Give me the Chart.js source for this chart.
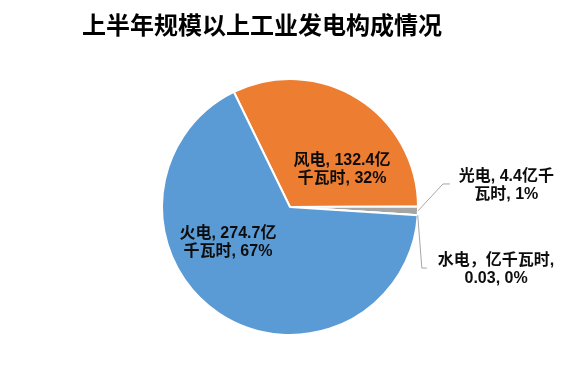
<!DOCTYPE html>
<html lang="zh">
<head>
  <meta charset="UTF-8">
  <title>上半年规模以上工业发电构成情况</title>
  <script src="https://cdn.jsdelivr.net/npm/chart.js"></script>
  <style>
    html, body { margin: 0; padding: 0; background: #fff; }
    #wrap { width: 582px; height: 370px; }
  </style>
</head>
<body>
  <div id="wrap"><canvas id="pie" width="582" height="370"></canvas></div>

  <script>
    const chartTitle = '上半年规模以上工业发电构成情况';
    const sources = ['风电', '光电', '水电', '火电'];
    const output = [132.4, 4.4, 0.03, 274.7];   // 亿千瓦时
    const colors = ['#ED7D31', '#A5A5A5', '#FFC000', '#5B9BD5'];

    const total = output.reduce((a, b) => a + b, 0);
    const pct = output.map(v => Math.round(v / total * 100) + '%');

    // label lines, same wording as the original
    const labelLines = [
      [sources[0] + ', ' + output[0] + '亿', '千瓦时, ' + pct[0]],
      [sources[1] + ', ' + output[1] + '亿千', '瓦时, ' + pct[1]],
      [sources[2] + '，亿千瓦时,', output[2] + ', ' + pct[2]],
      [sources[3] + ', ' + output[3] + '亿', '千瓦时, ' + pct[3]]
    ];
    // label centre relative to pie centre, in radii; leader elbow for outside ones
    const labelPos = [[0.406, -0.29], [1.69, -0.165], [1.61, 0.49], [-0.485, 0.275]];
    const leaders = [null, [1.195, -0.18, 7], [1.03, 0.477, 5], null];

    const labelPlugin = {
      id: 'sliceLabels',
      afterDraw(chart) {
        const ctx = chart.ctx;
        const arcs = chart.getDatasetMeta(0).data;
        ctx.save();
        // title
        ctx.fillStyle = '#000';
        ctx.font = 'bold 24px "Noto Sans CJK SC", sans-serif';
        ctx.textAlign = 'center';
        ctx.textBaseline = 'middle';
        ctx.fillText(chartTitle, 262, 25);

        arcs.forEach((arc, i) => {
          const r = arc.outerRadius;
          const cx = arc.x, cy = arc.y;
          const ld = leaders[i];
          if (ld) {
            const mid = (arc.startAngle + arc.endAngle) / 2;
            const ex = cx + ld[0] * r, ey = cy + ld[1] * r;
            ctx.strokeStyle = '#A6A6A6';
            ctx.lineWidth = 1;
            ctx.beginPath();
            ctx.moveTo(cx + Math.cos(mid) * r, cy + Math.sin(mid) * r);
            ctx.lineTo(ex, ey);
            ctx.lineTo(ex + ld[2], ey);
            ctx.stroke();
          }
          const tx = cx + labelPos[i][0] * r;
          const ty = cy + labelPos[i][1] * r;
          ctx.fillStyle = '#0d0d0d';
          ctx.font = 'bold 16px "Liberation Sans", "Noto Sans CJK SC", sans-serif';
          const lines = labelLines[i];
          lines.forEach((t, k) => {
            ctx.fillText(t, tx, ty + (k - (lines.length - 1) / 2) * 18);
          });
        });
        ctx.restore();
      }
    };

    new Chart(document.getElementById('pie'), {
      type: 'pie',
      data: {
        labels: sources,
        datasets: [{
          data: output,
          backgroundColor: colors,
          borderColor: '#ffffff',
          borderWidth: 2
        }]
      },
      options: {
        responsive: false,
        animation: false,
        rotation: -26,
        layout: { padding: { top: 78, bottom: 34, left: 161, right: 163 } },
        plugins: {
          legend: { display: false },
          tooltip: { enabled: false },
          title: { display: false }
        }
      },
      plugins: [labelPlugin]
    });
  </script>
</body>
</html>
